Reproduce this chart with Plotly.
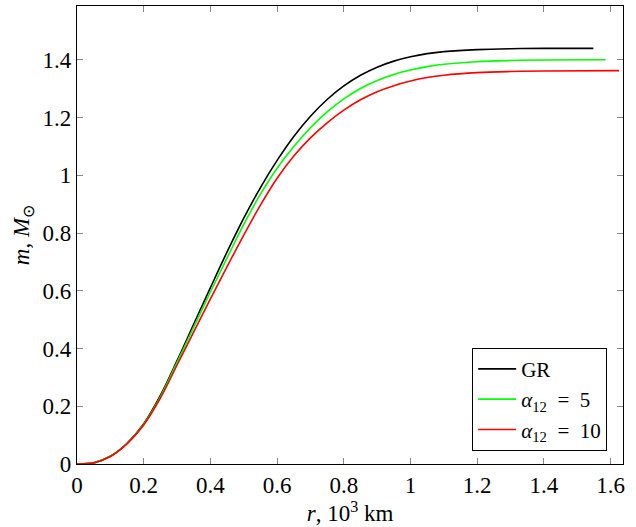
import plotly.graph_objects as go

r_gr = [0, 0.05, 0.1, 0.15, 0.2, 0.25, 0.3, 0.35, 0.4, 0.45, 0.5, 0.55, 0.6, 0.65, 0.7, 0.75, 0.8, 0.85, 0.9, 0.95, 1.0, 1.05, 1.1, 1.2, 1.3, 1.4, 1.548]
m_gr = [0, 0.004, 0.027, 0.072, 0.14, 0.238, 0.358, 0.485, 0.611, 0.735, 0.852, 0.958, 1.052, 1.135, 1.205, 1.263, 1.31, 1.347, 1.375, 1.396, 1.411, 1.422, 1.429, 1.436, 1.439, 1.44, 1.44]

r_a5 = [0, 0.05, 0.1, 0.15, 0.2, 0.25, 0.3, 0.35, 0.4, 0.45, 0.5, 0.55, 0.6, 0.65, 0.7, 0.75, 0.8, 0.85, 0.9, 0.95, 1.0, 1.05, 1.1, 1.2, 1.3, 1.4, 1.585]
m_a5 = [0, 0.004, 0.027, 0.071, 0.138, 0.233, 0.352, 0.474, 0.596, 0.714, 0.83, 0.935, 1.025, 1.10, 1.165, 1.22, 1.265, 1.301, 1.329, 1.35, 1.365, 1.377, 1.385, 1.394, 1.398, 1.40, 1.401]

r_a10 = [0, 0.05, 0.1, 0.15, 0.2, 0.25, 0.3, 0.35, 0.4, 0.45, 0.5, 0.55, 0.6, 0.65, 0.7, 0.75, 0.8, 0.85, 0.9, 0.95, 1.0, 1.05, 1.1, 1.2, 1.3, 1.4, 1.625]
m_a10 = [0, 0.004, 0.026, 0.07, 0.135, 0.228, 0.343, 0.458, 0.572, 0.684, 0.793, 0.897, 0.99, 1.067, 1.13, 1.182, 1.226, 1.262, 1.29, 1.311, 1.327, 1.339, 1.347, 1.356, 1.36, 1.362, 1.363]

names = ["GR", "<i>α</i><sub>12</sub>\u2002=\u20025", "<i>α</i><sub>12</sub>\u2002=\u200210"]
colors = ["#000000", "#00ff00", "#ff0000"]

x_ticks = [0, 0.2, 0.4, 0.6, 0.8, 1.0, 1.2, 1.4, 1.6]
x_labels = ["0", "0.2", "0.4", "0.6", "0.8", "1", "1.2", "1.4", "1.6"]
y_ticks = [0, 0.2, 0.4, 0.6, 0.8, 1.0, 1.2, 1.4]
y_labels = ["0", "0.2", "0.4", "0.6", "0.8", "1", "1.2", "1.4"]

fig = go.Figure()
for r, m, n, c in zip([r_gr, r_a5, r_a10], [m_gr, m_a5, m_a10], names, colors):
    fig.add_trace(go.Scatter(x=r, y=m, mode="lines", name=n,
                             line=dict(color=c, width=1.6, shape="spline", smoothing=1.0)))

font_family = "Times New Roman"
fs = 23
fig.update_layout(
    width=636, height=527,
    margin=dict(l=77, r=13, t=6, b=63, autoexpand=False),
    paper_bgcolor="white", plot_bgcolor="white",
    font=dict(family=font_family, size=fs, color="black"),
    showlegend=True,
    legend=dict(x=0.971, y=0.029, xanchor="right", yanchor="bottom",
                bordercolor="black", borderwidth=1, bgcolor="white",
                font=dict(family=font_family, size=21), itemwidth=38, tracegroupgap=0),
)
fig.update_xaxes(range=[0, 1.637], tickvals=x_ticks, ticktext=x_labels,
                 ticks="inside", ticklen=6, tickcolor="#888888", tickwidth=1,
                 showline=True, linecolor="black", linewidth=1.3, mirror="ticks",
                 showgrid=False, zeroline=False, automargin=False,
                 tickfont=dict(family=font_family, size=fs),
                 title=dict(text="<i>r</i>, 10<sup>3</sup> km", font=dict(family=font_family, size=fs), standoff=6))
fig.update_yaxes(range=[0, 1.587], tickvals=y_ticks, ticktext=y_labels,
                 ticks="inside", ticklen=6, tickcolor="#888888", tickwidth=1,
                 showline=True, linecolor="black", linewidth=1.3, mirror="ticks",
                 showgrid=False, zeroline=False, automargin=False,
                 tickfont=dict(family=font_family, size=fs),
                 title=dict(text="<i>m</i>, <i>M</i><sub>⊙</sub>", font=dict(family=font_family, size=fs), standoff=6))

fig.write_html("out.html", config={"displayModeBar": False},
               post_script="document.body.style.margin='0';")
